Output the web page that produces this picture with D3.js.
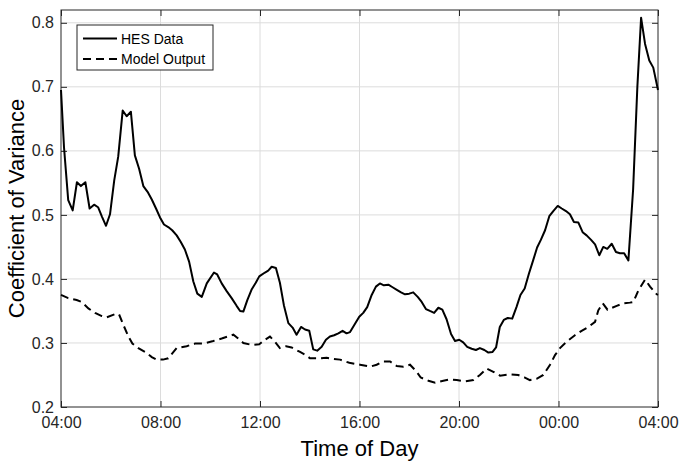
<!DOCTYPE html>
<html>
<head>
<meta charset="utf-8">
<script src="https://cdn.jsdelivr.net/npm/d3@7"></script>
<style>
  html, body { margin: 0; padding: 0; background: #fff; }
  svg { display: block; font-family: "Liberation Sans", Arial, sans-serif; }
</style>
</head>
<body>
<svg id="chart" width="680" height="461"></svg>
<script>
// Hours elapsed since 04:00 and coefficient of variance, measured household data
const hesHours = [0, 0.12, 0.29, 0.47, 0.64, 0.80, 0.98, 1.15, 1.33, 1.49, 1.65, 1.81, 1.97, 2.14, 2.30, 2.48, 2.64, 2.81, 2.97, 3.14, 3.31, 3.48, 3.65, 3.82, 3.98, 4.14, 4.31, 4.47, 4.65, 4.81, 4.98, 5.15, 5.32, 5.48, 5.66, 5.86, 6.15, 6.28, 6.46, 6.66, 6.86, 7.06, 7.20, 7.33, 7.49, 7.67, 7.83, 7.97, 8.20, 8.33, 8.47, 8.64, 8.80, 8.96, 9.14, 9.31, 9.47, 9.65, 9.81, 9.98, 10.14, 10.30, 10.48, 10.65, 10.81, 10.98, 11.15, 11.32, 11.48, 11.62, 11.82, 11.99, 12.15, 12.31, 12.49, 12.66, 12.82, 12.98, 13.16, 13.33, 13.50, 13.67, 13.83, 14.00, 14.16, 14.34, 14.50, 14.67, 14.83, 15.00, 15.17, 15.33, 15.50, 15.68, 15.84, 16.01, 16.17, 16.33, 16.51, 16.68, 16.84, 17.02, 17.18, 17.35, 17.49, 17.64, 17.80, 17.96, 18.14, 18.31, 18.47, 18.64, 18.81, 18.98, 19.14, 19.29, 19.46, 19.63, 19.79, 19.97, 20.13, 20.30, 20.46, 20.62, 20.80, 20.97, 21.13, 21.31, 21.47, 21.64, 21.80, 21.96, 22.14, 22.31, 22.47, 22.64, 22.81, 23.00, 23.17, 23.32, 23.48, 23.65, 23.81, 24.00];
const hesValues = [0.695, 0.606, 0.523, 0.507, 0.551, 0.545, 0.551, 0.510, 0.516, 0.512, 0.497, 0.483, 0.501, 0.554, 0.591, 0.663, 0.654, 0.661, 0.593, 0.572, 0.545, 0.536, 0.524, 0.510, 0.496, 0.485, 0.481, 0.476, 0.468, 0.458, 0.446, 0.427, 0.396, 0.377, 0.372, 0.393, 0.410, 0.407, 0.393, 0.381, 0.370, 0.358, 0.350, 0.349, 0.367, 0.384, 0.394, 0.404, 0.410, 0.413, 0.419, 0.417, 0.394, 0.359, 0.331, 0.324, 0.313, 0.325, 0.321, 0.319, 0.290, 0.288, 0.294, 0.305, 0.310, 0.312, 0.315, 0.319, 0.315, 0.317, 0.330, 0.341, 0.347, 0.356, 0.375, 0.388, 0.393, 0.390, 0.391, 0.387, 0.383, 0.379, 0.376, 0.377, 0.379, 0.372, 0.364, 0.353, 0.350, 0.347, 0.355, 0.352, 0.337, 0.314, 0.303, 0.305, 0.301, 0.294, 0.291, 0.289, 0.292, 0.289, 0.285, 0.286, 0.293, 0.325, 0.336, 0.339, 0.338, 0.356, 0.375, 0.385, 0.408, 0.429, 0.449, 0.461, 0.476, 0.498, 0.506, 0.514, 0.510, 0.506, 0.501, 0.489, 0.488, 0.473, 0.468, 0.461, 0.454, 0.437, 0.450, 0.447, 0.455, 0.442, 0.440, 0.440, 0.429, 0.540, 0.700, 0.808, 0.767, 0.741, 0.730, 0.695];

// Simulated profile from the model
const modelHours = [0, 0.29, 0.63, 0.83, 1.10, 1.37, 1.64, 1.84, 2.17, 2.33, 2.51, 2.71, 2.87, 3.11, 3.38, 3.65, 3.85, 4.10, 4.31, 4.65, 5.05, 5.39, 5.72, 6.12, 6.46, 6.93, 7.06, 7.33, 7.67, 7.97, 8.20, 8.40, 8.60, 8.80, 9.05, 9.27, 9.61, 9.85, 10.01, 10.35, 10.68, 10.95, 11.22, 11.59, 12.02, 12.42, 12.69, 12.93, 13.23, 13.50, 13.76, 14.03, 14.30, 14.46, 14.77, 15.04, 15.37, 15.64, 15.91, 16.24, 16.58, 16.84, 17.11, 17.38, 17.65, 18.05, 18.38, 18.65, 18.85, 19.12, 19.39, 19.66, 19.86, 20.06, 20.33, 20.66, 20.93, 21.20, 21.47, 21.60, 21.78, 21.97, 22.10, 22.34, 22.61, 22.87, 23.01, 23.21, 23.48, 23.68, 23.95, 24.00];
const modelValues = [0.375, 0.370, 0.367, 0.364, 0.354, 0.347, 0.342, 0.340, 0.345, 0.345, 0.328, 0.310, 0.299, 0.292, 0.286, 0.278, 0.274, 0.274, 0.276, 0.292, 0.295, 0.299, 0.299, 0.303, 0.307, 0.313, 0.309, 0.300, 0.297, 0.298, 0.305, 0.310, 0.302, 0.292, 0.295, 0.293, 0.286, 0.281, 0.276, 0.276, 0.277, 0.275, 0.274, 0.269, 0.266, 0.263, 0.266, 0.271, 0.271, 0.264, 0.263, 0.266, 0.255, 0.246, 0.241, 0.238, 0.241, 0.243, 0.242, 0.240, 0.242, 0.250, 0.260, 0.255, 0.249, 0.251, 0.250, 0.246, 0.242, 0.244, 0.250, 0.266, 0.281, 0.292, 0.302, 0.312, 0.319, 0.325, 0.333, 0.351, 0.362, 0.352, 0.354, 0.358, 0.362, 0.363, 0.364, 0.382, 0.399, 0.388, 0.376, 0.375];

const xTickHours = [0, 4, 8, 12, 16, 20, 24];
const xTickLabels = ["04:00", "08:00", "12:00", "16:00", "20:00", "00:00", "04:00"];
const yTicks = [0.2, 0.3, 0.4, 0.5, 0.6, 0.7, 0.8];
const seriesNames = ["HES Data", "Model Output"];

const W = 680, H = 461;
const margin = { top: 10, right: 22, bottom: 54, left: 61 };
const svg = d3.select("#chart");

const x = d3.scaleLinear().domain([0, 24]).range([margin.left, W - margin.right]);
const y = d3.scaleLinear().domain([0.2, 0.82]).range([H - margin.bottom, margin.top]);

const axisColor = "#262626";
const tickLen = 6;

// grid
const grid = svg.append("g").attr("stroke", "#dcdcdc").attr("stroke-width", 1);
xTickHours.slice(1, -1).forEach(h => {
  grid.append("line").attr("x1", x(h)).attr("x2", x(h)).attr("y1", y.range()[1]).attr("y2", y.range()[0]);
});
yTicks.slice(1).forEach(v => {
  grid.append("line").attr("x1", x(0)).attr("x2", x(24)).attr("y1", y(v)).attr("y2", y(v));
});

// axes (ticks drawn inward)
const xFmt = (d, i) => xTickLabels[i];
svg.append("g")
  .attr("transform", `translate(0,${y(0.2)})`)
  .call(d3.axisBottom(x).tickValues(xTickHours).tickFormat(xFmt).tickSizeInner(-tickLen).tickSizeOuter(0).tickPadding(10))
  .call(g => g.select(".domain").remove());
svg.append("g")
  .attr("transform", `translate(0,${y(0.82)})`)
  .call(d3.axisTop(x).tickValues(xTickHours).tickFormat("").tickSizeInner(-tickLen).tickSizeOuter(0))
  .call(g => g.select(".domain").remove());
svg.append("g")
  .attr("transform", `translate(${x(0)},0)`)
  .call(d3.axisLeft(y).tickValues(yTicks).tickFormat(d3.format(".1f")).tickSizeInner(-tickLen).tickSizeOuter(0).tickPadding(7))
  .call(g => g.select(".domain").remove());
svg.append("g")
  .attr("transform", `translate(${x(24)},0)`)
  .call(d3.axisRight(y).tickValues(yTicks).tickFormat("").tickSizeInner(-tickLen).tickSizeOuter(0))
  .call(g => g.select(".domain").remove());

svg.selectAll(".tick line").attr("stroke", axisColor);
svg.selectAll(".tick text").attr("fill", "#262626").style("font-size", "16px").style("font-family", "'Liberation Sans', Arial, sans-serif");

// box
svg.append("rect")
  .attr("x", x(0)).attr("y", y(0.82))
  .attr("width", x(24) - x(0)).attr("height", y(0.2) - y(0.82))
  .attr("fill", "none").attr("stroke", axisColor).attr("stroke-width", 1);

// series
const line = d3.line().x(d => x(d[0])).y(d => y(d[1]));
const hes = hesHours.map((h, i) => [h, hesValues[i]]);
const model = modelHours.map((h, i) => [h, modelValues[i]]);

svg.append("path").datum(model)
  .attr("d", line).attr("fill", "none").attr("stroke", "#000")
  .attr("stroke-width", 2).attr("stroke-dasharray", "8,5");
svg.append("path").datum(hes)
  .attr("d", line).attr("fill", "none").attr("stroke", "#000")
  .attr("stroke-width", 2).attr("stroke-linejoin", "round");

// axis titles
svg.append("text")
  .attr("x", (x(0) + x(24)) / 2).attr("y", 456)
  .attr("text-anchor", "middle").attr("fill", "#000")
  .style("font-size", "22px").text("Time of Day");
svg.append("text")
  .attr("transform", `translate(24,${(y(0.2) + y(0.82)) / 2}) rotate(-90)`)
  .attr("text-anchor", "middle").attr("fill", "#000")
  .style("font-size", "22px").text("Coefficient of Variance");

// legend
const lg = svg.append("g").attr("transform", "translate(77,25)");
lg.append("rect").attr("width", 136).attr("height", 45)
  .attr("fill", "#fff").attr("stroke", axisColor).attr("stroke-width", 1);
seriesNames.forEach((name, i) => {
  const cy = 13.5 + i * 20.5;
  lg.append("line").attr("x1", 6).attr("x2", 40).attr("y1", cy).attr("y2", cy)
    .attr("stroke", "#000").attr("stroke-width", 2)
    .attr("stroke-dasharray", i === 1 ? "8,5" : null);
  lg.append("text").attr("x", 44).attr("y", cy + 5)
    .attr("fill", "#000").style("font-size", "14px").text(name);
});
</script>
</body>
</html>
